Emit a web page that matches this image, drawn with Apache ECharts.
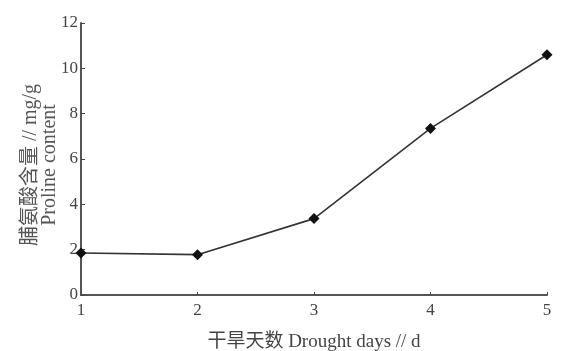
<!DOCTYPE html>
<html>
<head>
<meta charset="utf-8">
<script src="https://cdn.jsdelivr.net/npm/echarts@6/dist/echarts.min.js"></script>
<style>
html,body{margin:0;padding:0;background:#fff;}
#chart{width:587px;height:351px;}
</style>
</head>
<body>
<div id="chart"></div>
<script>
// Drought days and proline content (mg/g)
const days = [1, 2, 3, 4, 5];
const proline = [1.85, 1.78, 3.37, 7.35, 10.6];
const yTicks = [0, 2, 4, 6, 8, 10, 12];

const FONT = '"Liberation Serif", "Noto Sans CJK SC", serif';

const chart = echarts.init(document.getElementById('chart'));
chart.setOption({
  backgroundColor: '#fff',
  animation: false,
  grid: { left: 81, right: 40, top: 23, bottom: 56, outerBoundsMode: 'none' },
  xAxis: {
    type: 'value',
    min: days[0],
    max: days[days.length - 1],
    interval: 1,
    name: '干旱天数 Drought days // d',
    nameLocation: 'middle',
    nameGap: 38,
    nameMoveOverlap: false,
    nameTextStyle: { color: '#444', fontSize: 19, fontFamily: FONT },
    axisLine: { lineStyle: { color: '#555', width: 2 } },
    axisTick: { inside: true, length: 3, lineStyle: { color: '#444' } },
    axisLabel: { color: '#444', fontSize: 17, fontFamily: FONT, margin: 7 },
    splitLine: { show: false }
  },
  yAxis: {
    type: 'value',
    min: yTicks[0],
    max: yTicks[yTicks.length - 1],
    interval: 2,
    name: '脯氨酸含量 // mg/g\nProline content',
    nameLocation: 'middle',
    nameRotate: 90,
    nameGap: 22,
    nameMoveOverlap: false,
    nameTextStyle: { color: '#555', fontSize: 20, fontFamily: FONT, lineHeight: 19, padding: [0, 12, 0, 0] },
    axisLine: { show: true, lineStyle: { color: '#555', width: 2 } },
    axisTick: { show: true, inside: true, length: 4, lineStyle: { color: '#444' } },
    axisLabel: { color: '#444', fontSize: 17, fontFamily: FONT, margin: 3 },
    splitLine: { show: false }
  },
  series: [{
    type: 'line',
    data: days.map((d, i) => [d, proline[i]]),
    symbol: 'diamond',
    symbolSize: 11,
    itemStyle: { color: '#111' },
    lineStyle: { color: '#333', width: 1.6 }
  }]
});
</script>
</body>
</html>
